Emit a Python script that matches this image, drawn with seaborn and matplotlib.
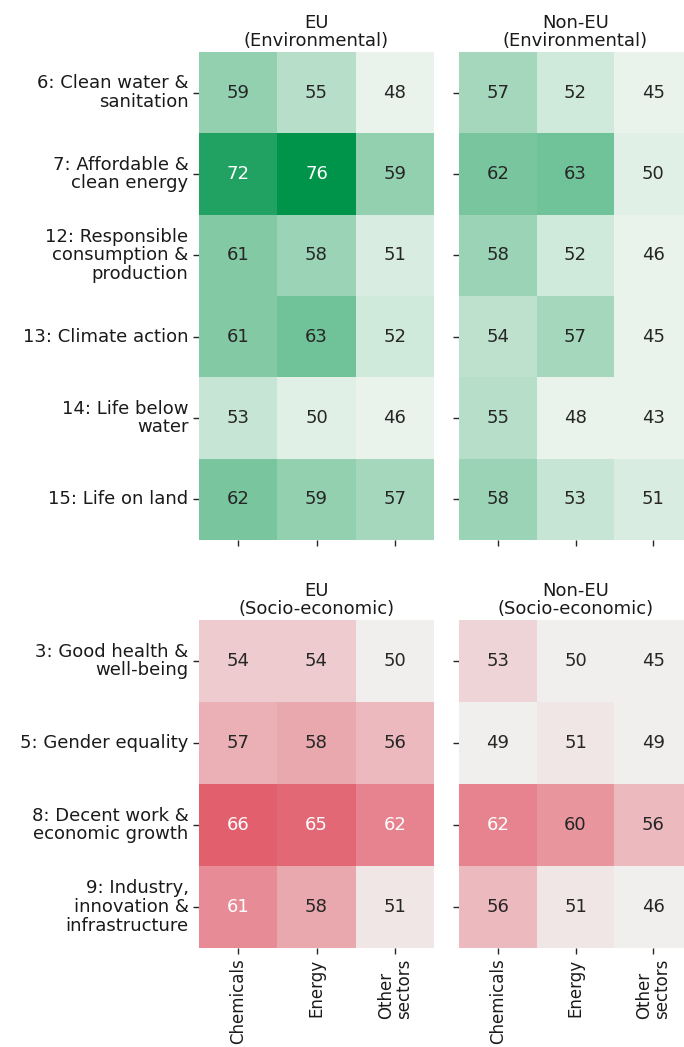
import numpy as np
import pandas as pd
import matplotlib
matplotlib.use("Agg")
import matplotlib.pyplot as plt
import seaborn as sns
from matplotlib.colors import LinearSegmentedColormap

# ---------------- data ----------------
sectors = ["Chemicals", "Energy", "Other\nsectors"]
env_goals = ["6: Clean water &\nsanitation",
             "7: Affordable &\nclean energy",
             "12: Responsible\nconsumption &\nproduction",
             "13: Climate action",
             "14: Life below\nwater",
             "15: Life on land"]
soc_goals = ["3: Good health &\nwell-being",
             "5: Gender equality",
             "8: Decent work &\neconomic growth",
             "9: Industry,\ninnovation &\ninfrastructure"]

eu_env = [[59, 55, 48],
          [72, 76, 59],
          [61, 58, 51],
          [61, 63, 52],
          [53, 50, 46],
          [62, 59, 57]]
noneu_env = [[57, 52, 45],
             [62, 63, 50],
             [58, 52, 46],
             [54, 57, 45],
             [55, 48, 43],
             [58, 53, 51]]
eu_soc = [[54, 54, 50],
          [57, 58, 56],
          [66, 65, 62],
          [61, 58, 51]]
noneu_soc = [[53, 50, 45],
             [49, 51, 49],
             [62, 60, 56],
             [56, 51, 46]]

titles = ["EU\n(Environmental)", "Non-EU\n(Environmental)",
          "EU\n(Socio-economic)", "Non-EU\n(Socio-economic)"]

# ---------------- style ----------------
sns.set_theme(style="ticks")
plt.rcParams['font.family'] = ['DejaVu Sans']
FS = 13
FSX = 12

green = LinearSegmentedColormap.from_list("g", ["#e9f3ec", "#00944a"])
red = LinearSegmentedColormap.from_list("r", ["#f1efee", "#e2606e"])

W, H = 684, 1047
fig = plt.figure(figsize=(W / 100, H / 100), dpi=100)


def box(x0, x1, y0, y1):
    return [x0 / W, 1 - y1 / H, (x1 - x0) / W, (y1 - y0) / H]


panels = [
    (eu_env, env_goals, green, 49, 76, box(199, 434, 52, 540), True, False),
    (noneu_env, env_goals, green, 49, 76, box(459, 692, 52, 540), False, False),
    (eu_soc, soc_goals, red, 50, 66, box(199, 434, 620, 948), True, True),
    (noneu_soc, soc_goals, red, 50, 66, box(459, 692, 620, 948), False, True),
]

for (vals, goals, cmap, vmin, vmax, pos, ylab, xlab), title in zip(panels, titles):
    ax = fig.add_axes(pos)
    df = pd.DataFrame(vals, index=goals, columns=sectors)
    sns.heatmap(df, ax=ax, cmap=cmap, vmin=vmin, vmax=vmax, annot=True, fmt="d",
                cbar=False, annot_kws={"size": FS})
    ax.set_title(title, fontsize=FS, pad=4, color="0.1", linespacing=1.05)
    ax.tick_params(axis="both", length=4, width=1, color="0.15",
                   labelcolor="0.1")
    if ylab:
        ax.set_yticklabels(goals, rotation=0, ha="right", va="center",
                           multialignment="right", fontsize=FS, linespacing=1.05)
    else:
        ax.set_yticklabels([])
    if xlab:
        ax.set_xticklabels(sectors, rotation=90, ha="center", va="top",
                           multialignment="left", fontsize=FSX, linespacing=1.0)
    else:
        ax.set_xticklabels([])
    ax.set_xlabel("")
    ax.set_ylabel("")

fig.savefig("out.png", dpi=100)
